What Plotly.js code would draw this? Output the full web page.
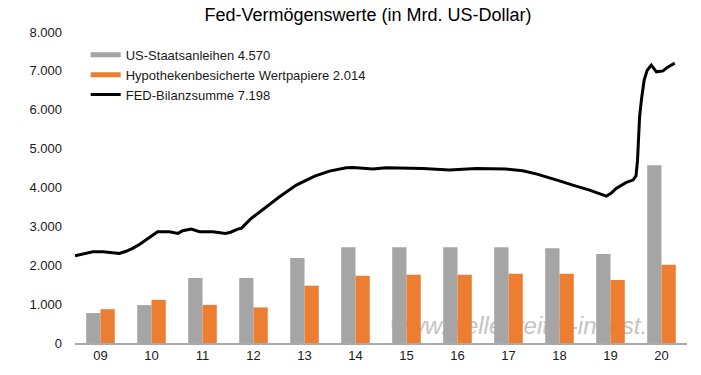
<!DOCTYPE html>
<html>
<head>
<meta charset="utf-8">
<script src="https://cdn.plot.ly/plotly-3.0.1.min.js"></script>
<style>html,body{margin:0;padding:0;background:#fff;}#chart{width:701px;height:375px;}</style>
</head>
<body>
<div id="chart"></div>
<script>
// Categories (years)
const yearLabels = ['09','10','11','12','13','14','15','16','17','18','19','20'];
// US-Staatsanleihen (Mrd. USD)
const treasuries = [770, 975, 1670, 1670, 2185, 2460, 2460, 2460, 2465, 2435, 2290, 4570];
// Hypothekenbesicherte Wertpapiere (Mrd. USD)
const mbs = [870, 1110, 980, 915, 1475, 1730, 1755, 1755, 1780, 1780, 1620, 2014];
// FED-Bilanzsumme: time (fractional year) and value (Mrd. USD)
const balanceTime = [2009.00, 2009.15, 2009.35, 2009.55, 2009.75, 2009.87, 2010.00, 2010.13, 2010.27, 2010.40,
  2010.52, 2010.62, 2010.85, 2011.02, 2011.11, 2011.28, 2011.44, 2011.70, 2011.95, 2012.05,
  2012.19, 2012.26, 2012.45, 2012.68, 2013.01, 2013.34, 2013.70, 2013.99, 2014.32, 2014.45,
  2014.84, 2015.10, 2015.36, 2015.82, 2016.34, 2016.87, 2017.45, 2017.78, 2018.06, 2018.37,
  2018.50, 2018.76, 2019.09, 2019.42, 2019.51, 2019.61, 2019.81, 2019.94, 2020.00, 2020.03,
  2020.07, 2020.11, 2020.16, 2020.22, 2020.30, 2020.40, 2020.53, 2020.62, 2020.76];
const balanceValue = [2244, 2290, 2347, 2347, 2320, 2305, 2360, 2434, 2540, 2665,
  2780, 2862, 2862, 2820, 2887, 2930, 2862, 2862, 2820, 2850,
  2930, 2950, 3200, 3436, 3762, 4062, 4293, 4422, 4507, 4517,
  4473, 4507, 4507, 4491, 4447, 4491, 4473, 4430, 4344, 4233,
  4170, 4062, 3933, 3779, 3848, 3977, 4131, 4190, 4300, 4704,
  5810, 6298, 6761, 7018, 7147, 6975, 7000, 7095, 7198];
const yTicks = [0, 1000, 2000, 3000, 4000, 5000, 6000, 7000, 8000];

const fmt = n => String(n).replace(/\B(?=(\d{3})+(?!\d))/g, '.');
const names = [
  'US-Staatsanleihen ' + fmt(treasuries[treasuries.length - 1]),
  'Hypothekenbesicherte Wertpapiere ' + fmt(mbs[mbs.length - 1]),
  'FED-Bilanzsumme ' + fmt(balanceValue[balanceValue.length - 1])
];
const GRAY = '#a5a5a5', ORANGE = '#ed7d31';
const FONT = 'Liberation Sans, Arial, sans-serif';

const traces = [
  {type: 'bar', x: yearLabels, y: treasuries, marker: {color: GRAY}, showlegend: false, hoverinfo: 'skip'},
  {type: 'bar', x: yearLabels, y: mbs, marker: {color: ORANGE}, showlegend: false, hoverinfo: 'skip'},
  {type: 'scatter', mode: 'lines', x: balanceTime, y: balanceValue, xaxis: 'x2',
   line: {color: '#000', width: 3}, showlegend: false, hoverinfo: 'skip'},
  // legend entries
  {type: 'scatter', mode: 'lines', x: [null], y: [null], name: names[0], line: {color: GRAY, width: 5}},
  {type: 'scatter', mode: 'lines', x: [null], y: [null], name: names[1], line: {color: ORANGE, width: 5}},
  {type: 'scatter', mode: 'lines', x: [null], y: [null], name: names[2], line: {color: '#000', width: 3}}
];

const layout = {
  width: 701, height: 375,
  margin: {l: 75, r: 14, t: 32, b: 32},
  paper_bgcolor: '#fff', plot_bgcolor: '#fff',
  separators: ',.',
  font: {family: FONT, size: 13, color: '#1a1a1a'},
  title: {text: 'Fed-Vermögenswerte (in Mrd. US-Dollar)', font: {family: FONT, size: 18, color: '#000'},
          x: 0.525, xanchor: 'center', y: 0.96, yanchor: 'middle'},
  barmode: 'group', bargap: 0.44, bargroupgap: 0,
  xaxis: {type: 'category', range: [-0.5, 11.5], showline: true, linecolor: '#aaaaaa', linewidth: 1.5,
          ticks: '', showgrid: false, zeroline: false, tickfont: {size: 13, color: '#1a1a1a'}, fixedrange: true},
  xaxis2: {overlaying: 'x', range: [2009, 2021], visible: false, fixedrange: true},
  yaxis: {range: [0, 8000], tickvals: yTicks, tickformat: ',d', showgrid: false, zeroline: false,
          showline: false, ticks: '', ticklabelstandoff: 12, tickfont: {size: 13, color: '#1a1a1a'}, fixedrange: true},
  legend: {x: 0.0175, y: 0.975, xanchor: 'left', yanchor: 'top', bgcolor: 'rgba(0,0,0,0)',
           font: {size: 13, color: '#1a1a1a'}},
  shapes: [{type: 'rect', layer: 'below', xref: 'paper', yref: 'y', x0: 0.5, x1: 0.95, y0: 300, y1: 700,
            line: {width: 0}, fillcolor: 'rgba(0,0,0,0)',
            label: {text: '<i>www.wellenreiter-invest.</i>', textposition: 'middle center',
                    font: {family: FONT, size: 24, color: '#c4c4c4'}}}]
};

Plotly.newPlot('chart', traces, layout, {displayModeBar: false, staticPlot: true});
</script>
</body>
</html>
